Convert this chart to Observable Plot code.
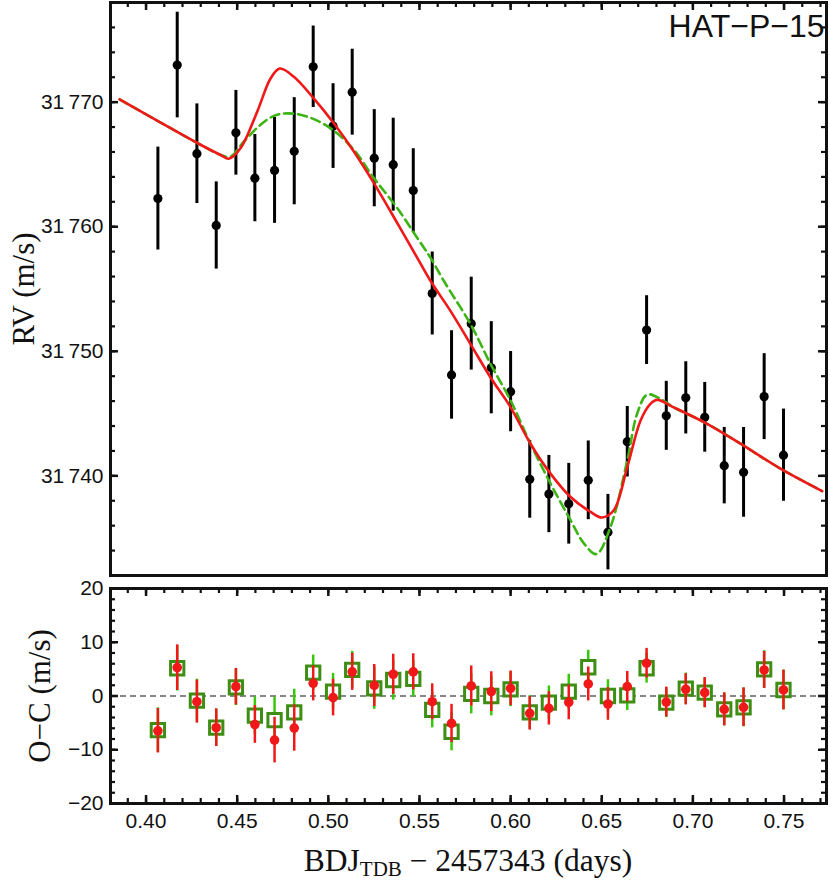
<!DOCTYPE html>
<html><head><meta charset="utf-8">
<script src="https://cdn.jsdelivr.net/npm/d3@7"></script>
<script src="https://cdn.jsdelivr.net/npm/@observablehq/plot@0.6"></script>
<style>
html,body{margin:0;padding:0;background:#fff;}
#wrap{position:relative;width:830px;height:880px;overflow:hidden;}
#panelTop,#panelBot{position:absolute;left:0;}
#panelTop{top:0}
#panelBot{top:580px}
</style></head><body><div id="wrap"><div id="panelTop"></div><div id="panelBot"></div></div>
<script>
// ---------- data ----------
const times = [0.4065,0.4171,0.4279,0.4385,0.4493,0.4597,0.4705,0.4813,0.4917,0.5026,0.5131,0.5252,0.5356,0.5466,0.5570,0.5676,0.5784,0.5894,0.6000,0.6105,0.6210,0.6319,0.6426,0.6534,0.6640,0.6746,0.6854,0.6961,0.7065,0.7172,0.7278,0.7391,0.7497];
const rv = [31762.26,31772.98,31765.86,31760.10,31767.54,31763.90,31764.52,31766.06,31772.84,31768.08,31770.80,31765.50,31764.98,31762.90,31754.64,31748.10,31752.22,31748.68,31746.76,31739.72,31738.54,31737.76,31739.64,31735.48,31742.74,31751.70,31744.82,31746.26,31744.70,31740.82,31740.28,31746.36,31741.66];
const rvErr = [4.13,4.24,4.0,3.5,3.4,3.5,4.25,4.3,3.27,3.4,3.45,3.9,3.73,3.36,3.33,3.55,3.73,3.7,3.22,3.12,3.1,3.24,3.16,3.03,2.83,2.76,2.77,2.9,2.8,3.07,3.6,3.45,3.7];
const residRed = [-6.47,5.28,-1.06,-5.9,1.74,-5.3,-8.2,-5.97,2.36,-0.3,4.5,1.96,4.05,4.5,-1.06,-5.1,1.87,0.81,1.43,-3.23,-2.3,-1.18,2.24,-1.49,1.74,6.1,-1.12,1.24,0.62,-2.49,-2.1,4.85,1.12];
const residGreen = [-6.34,5.16,-0.87,-5.9,1.62,-3.67,-4.48,-3.05,4.35,0.81,4.85,1.43,2.98,3.17,-2.6,-6.65,0.4,0,1.24,-3.05,-1.24,0.81,5.35,0,0.12,5.16,-1.24,1.37,0.62,-2.49,-2.1,4.97,1.12];

// model curves (solid red, dashed green)
const redT  = [0.3855,0.4299,0.4409,0.4454,0.4518,0.4610,0.4683,0.4734,0.4811,0.4920,0.5030,0.5140,0.5250,0.5378,0.5488,0.5561,0.5670,0.5780,0.5890,0.6000,0.6109,0.6219,0.6329,0.6439,0.6502,0.6566,0.6640,0.6713,0.6767,0.6804,0.6895,0.7078,0.7261,0.7480,0.7709];
const redRV = [31770.22,31766.58,31765.76,31765.46,31766.30,31769.24,31771.90,31772.70,31772.04,31770.30,31768.30,31766.04,31763.50,31760.30,31757.50,31755.64,31753.24,31750.58,31747.90,31745.50,31742.58,31740.18,31738.30,31737.10,31736.66,31737.24,31740.70,31744.44,31745.78,31746.10,31745.50,31744.18,31742.58,31740.58,31738.78];
const greenT  = [0.3855,0.4299,0.4409,0.4464,0.4537,0.4628,0.4701,0.4775,0.4884,0.5012,0.5140,0.5250,0.5378,0.5488,0.5561,0.5634,0.5780,0.5890,0.6000,0.6109,0.6219,0.6329,0.6402,0.6471,0.6548,0.6640,0.6694,0.6749,0.6822,0.6895,0.7078,0.7261,0.7480,0.7709];
const greenRV = [31770.22,31766.58,31765.76,31765.64,31766.84,31768.18,31768.90,31769.10,31768.84,31767.90,31766.18,31763.90,31761.50,31759.10,31757.50,31755.64,31752.18,31748.98,31746.04,31742.58,31739.38,31736.44,31734.58,31733.72,31735.90,31741.24,31744.98,31746.52,31746.18,31745.50,31744.18,31742.58,31740.58,31738.78];

// tick labels
const xTickLabels = [0.40,0.45,0.50,0.55,0.60,0.65,0.70,0.75];
const rvTickLabels = [31740,31750,31760,31770];
const ocTickLabels = [-20,-10,0,10,20];
const targetName = ["HAT\u2212P\u221215"];

// ---------- tables ----------
const obs = times.map((t, i) => ({t, rv: rv[i], e: rvErr[i], rr: residRed[i], rg: residGreen[i]}));
const redModel = redT.map((t, i) => ({t, v: redRV[i]}));
const greenModel = greenT.map((t, i) => ({t, v: greenRV[i]}));

const xMinor = d3.range(39, 78).map(d => d / 100);
const rvMinor = d3.range(31732, 31779, 2);
const ocMinor = d3.range(-20, 21, 2);

const RED = "#f01818", GREENLINE = "#3cb414", GREENSQ = "#3d8e12", GREENBAR = "#38c80a";
const AX = "#111";
const tickFont = "Liberation Sans, Arial, sans-serif";
const titleFont = "Liberation Serif, Times New Roman, serif";
const fmtRV = d => { const s = d3.format("d")(d); return s.slice(0, 2) + "\u2009" + s.slice(2); };

const W = 830, mL = 110, mR = 4;
const xDomain = [0.3805, 0.7733];
const MAJ = 8, MIN = 5;
const plotW = W - mL - mR;

// inward frame ticks, drawn as short rules (length given in pixels, converted with the scale span)
function frameTicks(yDomain, plotH, yMajor, yMinor, withBottom) {
  const dx = (xDomain[1] - xDomain[0]) / plotW;
  const dy = (yDomain[1] - yDomain[0]) / plotH;
  const marks = [];
  for (const [vals, len, sw] of [[yMinor, MIN, 2.2], [yMajor, MAJ, 2.5]]) {
    marks.push(Plot.ruleY(vals, {y: d => d, x1: xDomain[0], x2: xDomain[0] + len * dx, stroke: AX, strokeWidth: sw}));
    marks.push(Plot.ruleY(vals, {y: d => d, x1: xDomain[1] - len * dx, x2: xDomain[1], stroke: AX, strokeWidth: sw}));
  }
  for (const [vals, len, sw] of [[xMinor, MIN, 2.2], [xTickLabels, MAJ, 2.5]]) {
    marks.push(Plot.ruleX(vals, {x: d => d, y1: yDomain[1] - len * dy, y2: yDomain[1], stroke: AX, strokeWidth: sw}));
    if (withBottom) marks.push(Plot.ruleX(vals, {x: d => d, y1: yDomain[0], y2: yDomain[0] + len * dy, stroke: AX, strokeWidth: sw}));
  }
  return marks;
}

// ---------- top panel ----------
const topH = 580, topMT = 2, topMB = 5;
const rvDomain = [31732, 31778];
const plotTop = Plot.plot({
  width: W, height: topH,
  marginLeft: mL, marginRight: mR, marginTop: topMT, marginBottom: topMB,
  style: {background: "transparent", overflow: "visible", fontFamily: tickFont},
  x: {domain: xDomain, axis: null},
  y: {domain: rvDomain, axis: null},
  marks: [
    Plot.ruleX(obs, {x: "t", y1: d => d.rv - d.e, y2: d => d.rv + d.e, stroke: "black", strokeWidth: 3}),
    Plot.dot(obs, {x: "t", y: "rv", r: 4.6, fill: "black"}),
    Plot.line(greenModel, {x: "t", y: "v", stroke: GREENLINE, strokeWidth: 2.6, strokeDasharray: "9,5", curve: "catmull-rom"}),
    Plot.line(redModel, {x: "t", y: "v", stroke: RED, strokeWidth: 2.6, curve: "catmull-rom"}),
    Plot.text(targetName, {frameAnchor: "top-right", text: d => d, textAnchor: "end", lineAnchor: "top", dx: -2, dy: 12, fontSize: 32, fontFamily: tickFont, fill: "#111", letterSpacing: "2px"}),
    ...frameTicks(rvDomain, topH - topMT - topMB, rvTickLabels, rvMinor, false),
    Plot.axisY(rvTickLabels, {anchor: "left", tickSize: 0, tickPadding: 7, tickFormat: fmtRV, fontSize: 21, fill: "#111", label: null}),
    Plot.text(["RV (m/s)"], {frameAnchor: "left", text: d => d, rotate: -90, dx: -86, textAnchor: "middle", lineAnchor: "middle", fontSize: 31, fontFamily: titleFont, fill: "#111"}),
    Plot.frame({stroke: AX, strokeWidth: 3})
  ]
});
document.getElementById("panelTop").appendChild(plotTop);

// ---------- bottom panel ----------
const botH = 300, botMT = 8, botMB = 77;
const ocDomain = [-20, 20];
const plotBot = Plot.plot({
  width: W, height: botH,
  marginLeft: mL, marginRight: mR, marginTop: botMT, marginBottom: botMB,
  style: {background: "transparent", overflow: "visible", fontFamily: tickFont},
  x: {domain: xDomain, axis: null},
  y: {domain: ocDomain, axis: null},
  marks: [
    Plot.ruleY([0], {stroke: "#111", strokeWidth: 1.2, strokeDasharray: "6,4"}),
    Plot.ruleX(obs, {x: "t", y1: d => d.rg - d.e, y2: d => d.rg + d.e, stroke: GREENBAR, strokeWidth: 2.5}),
    Plot.dot(obs, {x: "t", y: "rg", symbol: "square", r: 7.5, stroke: GREENSQ, strokeWidth: 3, fill: "white"}),
    Plot.ruleX(obs, {x: "t", y1: d => d.rr - d.e, y2: d => d.rr + d.e, stroke: RED, strokeWidth: 2.5}),
    Plot.dot(obs, {x: "t", y: "rr", r: 4.8, fill: RED}),
    ...frameTicks(ocDomain, botH - botMT - botMB, ocTickLabels, ocMinor, true),
    Plot.axisY(ocTickLabels, {anchor: "left", tickSize: 0, tickPadding: 7, tickFormat: d3.format("d"), fontSize: 21, fill: "#111", label: null}),
    Plot.axisX(xTickLabels, {anchor: "bottom", tickSize: 0, tickPadding: 10, tickFormat: d3.format(".2f"), fontSize: 21, fill: "#111", label: null}),
    Plot.text(["O\u2212C (m/s)"], {frameAnchor: "left", text: d => d, rotate: -90, dx: -70, textAnchor: "middle", lineAnchor: "middle", fontSize: 31, fontFamily: titleFont, fill: "#111"}),
    Plot.frame({stroke: AX, strokeWidth: 3})
  ]
});
document.getElementById("panelBot").appendChild(plotBot);

// x-axis title with subscript
const cx = (mL + (W - mR)) / 2;
const xt = d3.select(plotBot).append("text")
  .attr("x", cx).attr("y", 291)
  .attr("text-anchor", "middle")
  .attr("font-family", titleFont).attr("font-size", 31.5).attr("fill", "#111");
xt.append("tspan").text("BDJ");
xt.append("tspan").attr("font-size", 21).attr("dy", 5).text("TDB");
xt.append("tspan").attr("dy", -5).text(" \u2212 2457343 (days)");
</script>
</body></html>
